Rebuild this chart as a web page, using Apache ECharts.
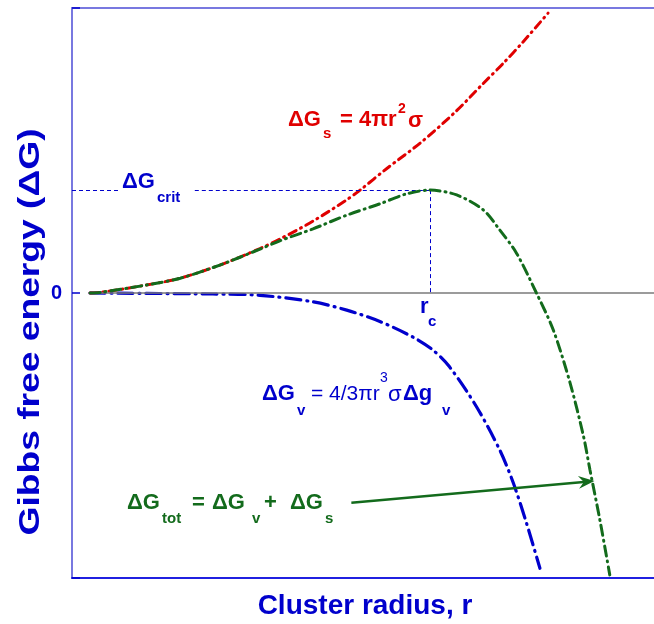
<!DOCTYPE html>
<html>
<head>
<meta charset="utf-8">
<script src="https://cdn.jsdelivr.net/npm/echarts@6/dist/echarts.min.js"></script>
<style>
  html, body { margin: 0; padding: 0; background: #fff; }
  #chart { width: 654px; height: 624px; }
</style>
</head>
<body>
<div id="chart"></div>
<script>
// Cluster radius (arbitrary units, 0..100) and free-energy values (-100..100)
const surfaceR = [3.1, 4.8, 12.8, 18.6, 25.4, 32.3, 35.7, 41.4, 47.2, 49.5, 54.1, 60.0, 65.8, 70.6, 74.1, 77.5, 81.8];
const surfaceG = [0, 0.2, 2.8, 5.2, 9.8, 15.6, 18.9, 25.2, 32.7, 36.1, 43.7, 52.9, 63.4, 73.4, 80.6, 88.1, 98.2];

const volumeR = [3.1, 24.2, 32.3, 41.4, 47.2, 52.9, 58.6, 62.0, 64.9, 69.5, 73.5, 75.8, 78.1, 80.4];
const volumeG = [0, -0.35, -0.8, -3.1, -6.0, -10.0, -15.5, -20.0, -26.0, -39.9, -55.1, -66.5, -80.8, -96.6];

const totalR = [3.1, 4.8, 12.8, 18.6, 25.4, 32.3, 35.7, 41.4, 47.2, 52.9, 57.5, 61.5, 66.1, 70.7, 73.5, 76.4, 79.8, 82.7, 85.6, 87.9, 89.0, 90.7, 92.4];
const totalG = [0, 0.2, 2.8, 5.2, 9.8, 15.4, 18.3, 22.5, 27.3, 31.3, 34.8, 36.1, 34.4, 29.1, 22.1, 13.9, 0, -13.0, -31.7, -50.4, -62.1, -79.6, -98.9];

// critical radius and barrier height
const rCrit = 61.5;
const gCrit = 36.1;

// y-axis tick labels
const yTickLabels = { '0': '0' };

const FONT = 'Liberation Sans, Arial, sans-serif';
const BLUE = '#0000cc';
const RED = '#e00000';
const GREEN = '#136b1c';

const zip = (xs, ys) => xs.map((x, i) => [x, ys[i]]);

const chart = echarts.init(document.getElementById('chart'), null, { renderer: 'canvas' });

// Text piece helper: [text, x, y, size, weight]
function pieces(color, list) {
  return list.map(p => ({
    type: 'text', x: p[1], y: p[2], z: 100,
    style: {
      text: p[0], fill: color,
      font: (p[4] || 'bold') + ' ' + p[3] + 'px ' + FONT,
      textAlign: 'left', textVerticalAlign: 'middle'
    }
  }));
}

// barbed arrow head (tip at top)
const ARROW = 'path://M5,0 L10,12 L5,8 L0,12 Z';

const option = {
  animation: false,
  backgroundColor: '#ffffff',
  grid: { left: 72, right: 0, top: 8, bottom: 46 },
  xAxis: [
    {
      type: 'value', min: 0, max: 100, position: 'bottom',
      axisLine: { show: true, onZero: false, lineStyle: { color: '#2020e0', width: 2 } },
      axisTick: { show: false }, axisLabel: { show: false }, splitLine: { show: false }
    },
    {
      type: 'value', min: 0, max: 100, position: 'top',
      axisLine: { show: true, onZero: false, lineStyle: { color: '#7878e0', width: 2 } },
      axisTick: { show: false }, axisLabel: { show: false }, splitLine: { show: false }
    }
  ],
  yAxis: {
    type: 'value', min: -100, max: 100, interval: 100,
    axisLine: { show: true, onZero: false, lineStyle: { color: '#7878e0', width: 2 } },
    axisTick: { show: true, inside: true, length: 8, lineStyle: { color: BLUE, width: 1.5 } },
    axisLabel: {
      color: BLUE, fontFamily: FONT, fontWeight: 'bold', fontSize: 20, margin: 10,
      formatter: v => yTickLabels[String(v)] || ''
    },
    splitLine: { show: false }
  },
  series: [
    {
      name: 'volume', type: 'line', smooth: 0.3, symbol: 'none', z: 3,
      data: zip(volumeR, volumeG),
      lineStyle: { color: BLUE, width: 3.2, type: [15, 6, 1, 6], cap: 'round' },
      markLine: {
        silent: true, symbol: 'none', label: { show: false },
        data: [
          [{ coord: [3.0, 0], lineStyle: { color: '#7a7a7a', width: 1.5, type: 'solid' } }, { coord: [100, 0] }],
          [{ coord: [0, gCrit] }, { coord: [7.9, gCrit] }],
          [{ coord: [21.1, gCrit] }, { coord: [rCrit, gCrit] }],
          [{ coord: [rCrit, gCrit] }, { coord: [rCrit, 0] }]
        ],
        lineStyle: { color: BLUE, width: 1, type: [4, 3] }
      }
    },
    {
      name: 'surface', type: 'line', smooth: 0.3, symbol: 'none', z: 4,
      data: zip(surfaceR, surfaceG),
      lineStyle: { color: RED, width: 3, type: [8, 5, 1, 5], cap: 'round' }
    },
    {
      name: 'total', type: 'line', smooth: 0.3, symbol: 'none', z: 5,
      data: zip(totalR, totalG),
      lineStyle: { color: GREEN, width: 3, type: [10, 5, 1, 5], cap: 'round' },
      markLine: {
        silent: true, symbol: ['none', ARROW], symbolSize: [13, 16], label: { show: false },
        data: [[{ coord: [48.0, -73.6] }, { coord: [88.4, -66.2] }]],
        lineStyle: { color: GREEN, width: 2.5, type: 'solid' },
        itemStyle: { color: GREEN }
      }
    }
  ],
  graphic: [
    // axis titles
    {
      type: 'text', x: 365, y: 606, z: 100,
      style: { text: 'Cluster radius, r', fill: BLUE, font: 'bold 28px ' + FONT, textAlign: 'center', textVerticalAlign: 'middle' }
    },
    {
      type: 'text', x: 31, y: 332, rotation: Math.PI / 2, scaleX: 1.24, z: 100,
      style: { text: 'Gibbs free energy (\u0394G)', fill: BLUE, font: 'bold 30px ' + FONT, textAlign: 'center', textVerticalAlign: 'middle' }
    },
    // barrier label
    ...pieces(BLUE, [['\u0394G', 122, 182, 22], ['crit', 157, 198, 15]]),
    // critical radius label
    ...pieces(BLUE, [['r', 420, 307, 22], ['c', 428, 322, 15]]),
    // surface term
    ...pieces(RED, [['\u0394G', 288, 120, 22], ['s', 323, 134, 15], ['= 4\u03c0r', 340, 120, 22], ['2', 398, 109, 14], ['\u03c3', 408, 121, 22]]),
    // volume term
    ...pieces(BLUE, [['\u0394G', 262, 394, 22], ['v', 297, 411, 15], ['= 4/3\u03c0r', 311, 394, 21, 'normal'], ['3', 380, 378, 14, 'normal'],
                     ['\u03c3', 388, 395, 22, 'normal'], ['\u0394g', 403, 394, 22], ['v', 442, 411, 15]]),
    // total
    ...pieces(GREEN, [['\u0394G', 127, 503, 22], ['tot', 162, 519, 15], ['=', 192, 503, 22], ['\u0394G', 212, 503, 22], ['v', 252, 519, 15],
                      ['+', 264, 503, 22], ['\u0394G', 290, 503, 22], ['s', 325, 519, 15]])
  ]
};

chart.setOption(option);
</script>
</body>
</html>
